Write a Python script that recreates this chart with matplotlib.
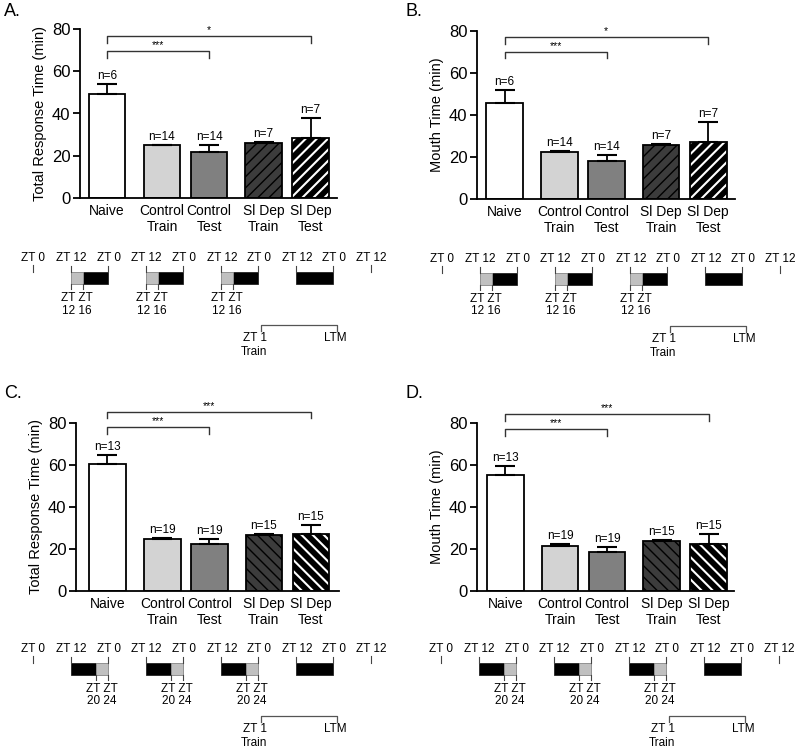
import matplotlib
matplotlib.use('Agg')
import matplotlib.pyplot as plt
from matplotlib.patches import Rectangle

plt.rcParams['font.family'] = ['Liberation Sans', 'DejaVu Sans']
plt.rcParams['hatch.linewidth'] = 1.5

# ---------------- data ----------------
groups = ['Naive', 'Control\nTrain', 'Control\nTest', 'Sl Dep\nTrain', 'Sl Dep\nTest']

A_mean = [49.1, 24.9, 21.9, 26.2, 28.6]
A_err = [5.0, 0.3, 3.2, 0.4, 9.3]
A_n = [6, 14, 14, 7, 7]

B_mean = [45.8, 22.5, 18.2, 25.5, 26.9]
B_err = [5.9, 0.5, 2.6, 0.5, 9.6]
B_n = [6, 14, 14, 7, 7]

C_mean = [60.4, 24.7, 22.4, 26.6, 27.1]
C_err = [4.4, 0.3, 2.3, 0.4, 4.3]
C_n = [13, 19, 19, 15, 15]

D_mean = [55.3, 21.6, 18.7, 23.9, 22.5]
D_err = [4.1, 0.7, 2.1, 0.4, 4.5]
D_n = [13, 19, 19, 15, 15]

# significance brackets: (label, from group, to group, height)
A_sig = [('***', 0, 2, 69.7), ('*', 0, 4, 76.7)]
B_sig = [('***', 0, 2, 70.0), ('*', 0, 4, 77.0)]
C_sig = [('***', 0, 2, 77.8), ('***', 0, 4, 85.2)]
D_sig = [('***', 0, 2, 77.0), ('***', 0, 4, 84.0)]

ylabels = ['Total Response Time (min)', 'Mouth Time (min)',
           'Total Response Time (min)', 'Mouth Time (min)']
yticks = [0, 20, 40, 60, 80]

# timeline schematic (hours from first ZT 0)
tl_dark_starts = [12, 36, 60, 84]
tl_dark_len = 12
tl_end = 108
light_AB = (12, 16)
light_CD = (20, 24)
train_hour = 73
ltm_hour = 97

# ---------------- style / layout ----------------
xpos = [0, 1.17, 2.17, 3.33, 4.33]
bar_w = 0.78
faces = ['white', '#d3d3d3', '#808080', '#3c3c3c', 'black']
hatches_AB = [None, None, None, '///', '///']
hatches_CD = [None, None, None, '\\\\\\', '\\\\\\']

fig = plt.figure(figsize=(8.0, 7.49), dpi=100)
W, H = 800.0, 749.0


def make_axes(left, right, top, bottom):
    return fig.add_axes([left / W, 1 - bottom / H, (right - left) / W, (bottom - top) / H])


def set_hlw(container, lw):
    for patch in container:
        if hasattr(patch, 'set_hatch_linewidth'):
            patch.set_hatch_linewidth(lw)


panels = [
    dict(box=(80, 337, 29, 198), xl=(-0.574, 4.89), mean=A_mean, err=A_err, n=A_n, sig=A_sig,
         hat=hatches_AB, letter='A.', lpos=(4, 12)),
    dict(box=(477, 735, 30.7, 199), xl=(-0.585, 4.90), mean=B_mean, err=B_err, n=B_n, sig=B_sig,
         hat=hatches_AB, letter='B.', lpos=(406, 12)),
    dict(box=(76, 339, 422.7, 591), xl=(-0.67, 4.93), mean=C_mean, err=C_err, n=C_n, sig=C_sig,
         hat=hatches_CD, letter='C.', lpos=(4, 393)),
    dict(box=(477, 734, 422.7, 591), xl=(-0.60, 4.87), mean=D_mean, err=D_err, n=D_n, sig=D_sig,
         hat=hatches_CD, letter='D.', lpos=(406, 393)),
]

for i, p in enumerate(panels):
    ax = make_axes(*p['box'])
    ax.set_xlim(*p['xl'])
    ax.set_ylim(0, 80)
    for j in range(len(groups)):
        if j == 4:
            # black bar with white stripes, then black outline
            b = ax.bar(xpos[j], p['mean'][j], width=bar_w, color=faces[j], edgecolor='white',
                       hatch=p['hat'][j], linewidth=0, zorder=2)
            set_hlw(b, 1.5)
            ax.bar(xpos[j], p['mean'][j], width=bar_w, color='none', edgecolor='black',
                   linewidth=1.3, zorder=2.1)
        else:
            b = ax.bar(xpos[j], p['mean'][j], width=bar_w, color=faces[j], edgecolor='black',
                       hatch=p['hat'][j], linewidth=1.3, zorder=2)
            if j == 3:
                set_hlw(b, 1.0)
    ax.errorbar(xpos, p['mean'], yerr=[[0] * 5, p['err']], fmt='none', ecolor='black',
                elinewidth=1.3, capsize=7, capthick=1.5, zorder=3)
    for j in range(len(groups)):
        ax.annotate('n=%d' % p['n'][j], (xpos[j], p['mean'][j] + p['err'][j]),
                    xytext=(0, 1.5), textcoords='offset points', ha='center', va='bottom',
                    fontsize=8.5)
    for lab, g0, g1, h in p['sig']:
        x0, x1 = xpos[g0], xpos[g1]
        ax.plot([x0, x0, x1, x1], [h - 3.2, h, h, h - 3.2], color='#333333', lw=1.0,
                clip_on=False, zorder=4)
        ax.text((x0 + x1) / 2, h + 0.5, lab, ha='center', va='bottom', fontsize=7.5,
                clip_on=False)
    ax.spines['top'].set_visible(False)
    ax.spines['right'].set_visible(False)
    ax.spines['left'].set_linewidth(1.3)
    ax.spines['bottom'].set_linewidth(1.3)
    ax.set_yticks(yticks)
    ax.tick_params(axis='y', labelsize=12, width=1.3, length=5, pad=2)
    ax.set_xticks(xpos)
    ax.set_xticklabels(groups, fontsize=10, linespacing=1.25)
    ax.tick_params(axis='x', length=0, pad=4)
    ax.set_ylabel(ylabels[i], fontsize=10.5, labelpad=3)
    fig.text(p['lpos'][0] / W, 1 - p['lpos'][1] / H, p['letter'], fontsize=13,
             ha='left', va='center')

# ---------------- timeline schematics ----------------
ov = fig.add_axes([0, 0, 1, 1])
ov.set_xlim(0, W)
ov.set_ylim(H, 0)
ov.axis('off')
ov.patch.set_visible(False)

scale = 3.13
timelines = [
    dict(x0=33, y0=272, light=light_AB, lab=('12', '16')),
    dict(x0=442, y0=273, light=light_AB, lab=('12', '16')),
    dict(x0=33, y0=663, light=light_CD, lab=('20', '24')),
    dict(x0=441, y0=663, light=light_CD, lab=('20', '24')),
]
fs = 8.5
for tl in timelines:
    X = lambda t, tl=tl: tl['x0'] + t * scale
    y0 = tl['y0']
    bh = 11.5
    for t, lab in [(0, 'ZT 0'), (tl_end, 'ZT 12')]:
        ov.plot([X(t), X(t)], [y0 - 7, y0], color='#444444', lw=0.8)
        ov.text(X(t), y0 - 14, lab, ha='center', va='center', fontsize=fs)
    for k, s in enumerate(tl_dark_starts):
        ov.add_patch(Rectangle((X(s), y0), tl_dark_len * scale, bh, facecolor='black',
                               edgecolor='#222222', lw=0.6))
        ov.plot([X(s), X(s)], [y0 - 6, y0], color='#444444', lw=0.8)
        ov.plot([X(s + tl_dark_len)] * 2, [y0 - 6, y0], color='#444444', lw=0.8)
        ov.text(X(s) + 1, y0 - 14, 'ZT 12', ha='center', va='center', fontsize=fs)
        ov.text(X(s + tl_dark_len) + 1, y0 - 14, 'ZT 0', ha='center', va='center', fontsize=fs)
        if k < 3:
            a = s + (tl['light'][0] - 12)
            b = s + (tl['light'][1] - 12)
            ov.add_patch(Rectangle((X(a), y0), (b - a) * scale, bh, facecolor='#c0c0c0',
                                   edgecolor='#999999', lw=0.6))
            for t in (a, b):
                ov.plot([X(t), X(t)], [y0 + bh, y0 + 16.5], color='#444444', lw=0.8)
            xm = (X(a) + X(b)) / 2
            ov.text(xm, y0 + 26, 'ZT ZT', ha='center', va='center', fontsize=fs)
            ov.text(xm, y0 + 38.5, '%s %s' % tl['lab'], ha='center', va='center', fontsize=fs)
    yb = y0 + 53
    ov.plot([X(train_hour), X(train_hour), X(ltm_hour), X(ltm_hour)],
            [yb + 6, yb, yb, yb + 6], color='#555555', lw=0.9)
    ov.text(X(train_hour) + 5.5, yb + 13, 'ZT 1', ha='right', va='center', fontsize=fs)
    ov.text(X(train_hour) + 5.5, yb + 27, 'Train', ha='right', va='center', fontsize=fs)
    ov.text(X(ltm_hour) - 1, yb + 13, 'LTM', ha='center', va='center', fontsize=fs)

fig.savefig('out.png', dpi=100)
